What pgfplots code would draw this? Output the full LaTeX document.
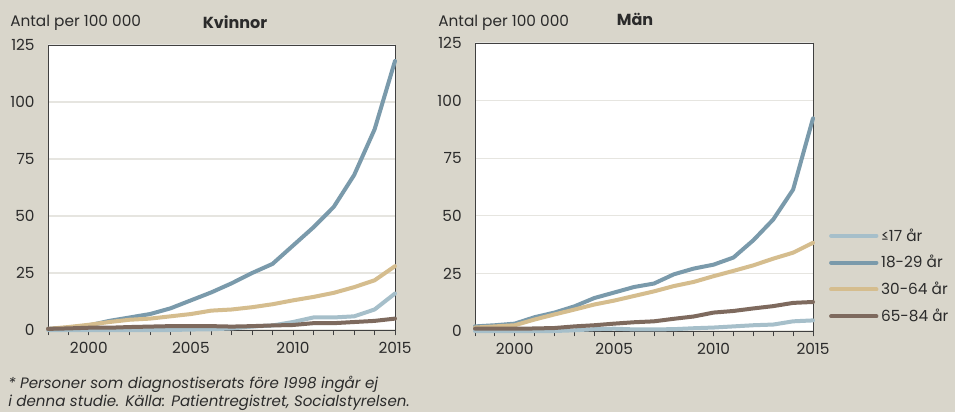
\documentclass[border=0pt]{standalone}
\usepackage{fontspec}
\setmainfont{Poppins}
\usepackage{pgfplots}
\usepackage{pgfplotstable}
\pgfplotsset{compat=1.18}
\definecolor{bg}{HTML}{D9D6CB}
\definecolor{cA}{HTML}{A6BFCA}
\definecolor{cB}{HTML}{7A9AAB}
\definecolor{cC}{HTML}{D5BD8E}
\definecolor{cD}{HTML}{7E6A5E}
\definecolor{gridc}{HTML}{E6E5E0}
\definecolor{txt}{HTML}{2B2B2B}

\pgfplotstableread{
year a b c d
1998 0 0.5 0.5 0.5
1999 0 1 1.3 0.7
2000 0 2 2.3 1
2001 0 4 3.5 1
2002 0 5.5 4.5 1.3
2003 0 7 5 1.5
2004 0 9.5 6 1.7
2005 0.2 13 7 1.7
2006 0.3 16.5 8.5 1.7
2007 0.7 20.5 9 1.5
2008 1.5 25 10 1.7
2009 2 29 11.3 2
2010 3.5 37 13 2.2
2011 5.5 45 14.5 3
2012 5.5 54 16.3 3
2013 6 68 18.8 3.5
2014 9 88 21.8 4
2015 16 118 28 5
}\kvinnor

\pgfplotstableread{
year a b c d
1998 0 2 1.5 1
1999 0 2.5 2 1
2000 0 3.2 2.5 1
2001 0 6 5 1.1
2002 0 8 7.2 1.3
2003 0.3 10.7 9.3 2
2004 0.8 14.3 11.5 2.5
2005 1 16.7 13.2 3.2
2006 0.7 19.1 15.2 3.8
2007 0.7 20.6 17.2 4.2
2008 0.8 24.6 19.5 5.3
2009 1.2 27.1 21.3 6.3
2010 1.5 28.8 23.8 8
2011 2 31.9 26.1 8.7
2012 2.5 39.4 28.5 9.8
2013 2.8 48.4 31.4 10.8
2014 4.2 61.4 34 12.2
2015 4.6 92.3 38.3 12.6
}\man

\pgfplotsset{
  panel/.style={
    scale only axis,
    xmin=1998, xmax=2015, ymin=0, ymax=125,
    ytick={0,25,...,125},
    xtick={2000,2005,2010,2015},
    minor xtick={1998,...,2015},
    xticklabel style={/pgf/number format/1000 sep={}, yshift=-1.5pt},
    yticklabel style={xshift=-2.5pt},
    /pgf/number format/assume math mode=true,
    ymajorgrids,
    grid style={draw=gridc, line width=1pt},
    axis background/.style={fill=white},
    axis line style={draw=black!75, line width=0.6pt},
    tick style={draw=black!75, line width=0.6pt},
    major tick length=4pt, minor tick length=4pt,
    tick align=outside,
    xtick pos=bottom,
    ytick style={draw=none},
    font=\fontsize{11.5}{13}\selectfont\color{txt},
    clip=false,
    every axis plot/.append style={line width=3pt, line cap=round, line join=round},
  }
}

\begin{document}
\begin{tikzpicture}
\fill[bg] (0pt,0pt) rectangle (716.25pt,309pt);

\begin{axis}[panel, at={(36pt,61.5pt)}, anchor=south west, width=260.25pt, height=213.75pt]
\addplot[cA] table[x=year,y=a] {\kvinnor};
\addplot[cB] table[x=year,y=b] {\kvinnor};
\addplot[cC] table[x=year,y=c] {\kvinnor};
\addplot[cD] table[x=year,y=d] {\kvinnor};
\end{axis}

\begin{axis}[panel, at={(356.25pt,60.75pt)}, anchor=south west, width=253.5pt, height=216pt,
  legend style={at={(1.035,0.375)}, anchor=north west, draw=none, fill=none,
    font=\fontsize{11.5}{13}\selectfont\color{txt}, row sep=5.2pt},
  legend cell align=left,
  legend image code/.code={\draw[#1] (0pt,0pt) -- (34pt,0pt);}]
\addplot[cA] table[x=year,y=a] {\man};
\addlegendentry{≤17 år}
\addplot[cB] table[x=year,y=b] {\man};
\addlegendentry{18-29 år}
\addplot[cC] table[x=year,y=c] {\man};
\addlegendentry{30-64 år}
\addplot[cD] table[x=year,y=d] {\man};
\addlegendentry{65-84 år}
\end{axis}

\node[anchor=west, font=\fontsize{11.5}{13}\selectfont, text=txt, inner sep=0] at (7.5pt,291.75pt) {Antal per 100 000};
\node[anchor=west, font=\fontsize{11.5}{13}\selectfont, text=txt, inner sep=0] at (328.5pt,291.75pt) {Antal per 100 000};
\node[font=\fontsize{12}{14}\selectfont\bfseries, text=txt, inner sep=0] at (176.25pt,292.5pt) {Kvinnor};
\node[font=\fontsize{12}{14}\selectfont\bfseries, text=txt, inner sep=0] at (476.25pt,294.75pt) {Män};
\node[anchor=west, font=\fontsize{11.3}{13}\selectfont\itshape, text=txt, inner sep=0] at (6pt,21pt) {* Personer som diagnostiserats före 1998 ingår ej};
\node[anchor=west, font=\fontsize{11.3}{13}\selectfont\itshape, text=txt, inner sep=0] at (6pt,6.75pt) {i denna studie. Källa: Patientregistret, Socialstyrelsen.};

\pgfresetboundingbox
\path (0pt,0pt) rectangle (716.25pt,309pt);
\end{tikzpicture}
\end{document}
